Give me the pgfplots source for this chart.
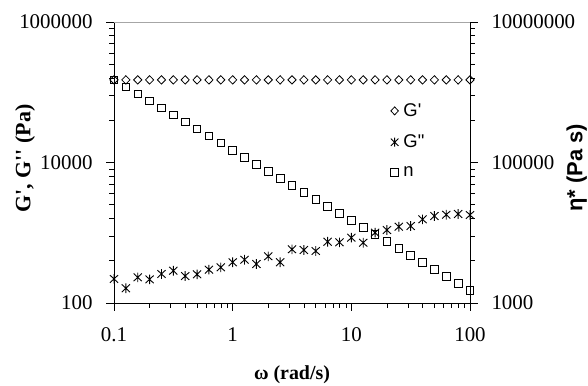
\documentclass[border=0pt]{standalone}
\usepackage{pgfplots}
\pgfplotsset{compat=1.18}
\usepackage{fontspec}
\setmainfont{Liberation Serif}
\newfontfamily\tnr{Liberation Serif}
\newfontfamily\arial{Liberation Sans}

\pgfdeclareplotmark{xast}{%
  \pgfpathmoveto{\pgfqpoint{0pt}{\pgfplotmarksize}}%
  \pgfpathlineto{\pgfqpoint{0pt}{-\pgfplotmarksize}}%
  \pgfpathmoveto{\pgfqpoint{-.85\pgfplotmarksize}{.8\pgfplotmarksize}}%
  \pgfpathlineto{\pgfqpoint{.85\pgfplotmarksize}{-.8\pgfplotmarksize}}%
  \pgfpathmoveto{\pgfqpoint{-.85\pgfplotmarksize}{-.8\pgfplotmarksize}}%
  \pgfpathlineto{\pgfqpoint{.85\pgfplotmarksize}{.8\pgfplotmarksize}}%
  \pgfusepathqstroke}

\pgfplotstableread{
w G1 G2 eta
0.1 150000 220 1500000
0.1259 150000 162 1191000
0.1585 150000 232 946000
0.1995 150000 217 752000
0.2512 150000 259 597000
0.3162 150000 288 474000
0.3981 150000 242 377000
0.5012 150000 256 299000
0.631 150000 298 238000
0.7943 150000 322 189000
1 150000 380 150000
1.259 150000 413 119100
1.585 150000 359 94600
1.995 150000 462 75200
2.512 150000 380 59700
3.162 150000 581 47400
3.981 150000 568 37700
5.012 150000 550 29900
6.31 150000 745 23800
7.943 150000 731 18900
10 150000 851 15000
12.59 150000 721 11910
15.85 150000 1003 9460
19.95 150000 1094 7520
25.12 150000 1219 5970
31.62 150000 1247 4740
39.81 150000 1553 3770
50.12 150000 1731 2990
63.1 150000 1807 2380
79.43 150000 1849 1890
100 150000 1790 1500
}\datatable

\begin{document}
\begin{tikzpicture}
\path[use as bounding box] (-114bp,-83bp) rectangle (474bp,303bp);
\begin{axis}[
  width=356bp, height=281bp, scale only axis,
  xmode=log, ymode=log, xmin=0.1, xmax=100,
  tick align=outside,
  major tick length=8bp, minor tick length=5bp,
  axis line style={black, line width=0.8bp},
  tick style={black, line width=0.8bp},
  tick label style={font=\tnr\fontsize{21}{24}\selectfont},
  xticklabel style={yshift=-13bp},
  yticklabel style={xshift=-10bp},
  clip=false,
  axis y line*=left, axis x line*=bottom,
  xtick={0.1,1,10,100}, xticklabels={0.1,1,10,100},
  minor xtick={},
  ymin=100, ymax=1000000,
  ytick={100,10000,1000000}, yticklabels={100,10000,1000000},
  minor ytick={400,900,1600,2500,3600,4900,6400,8100,40000,90000,160000,250000,360000,490000,640000,810000},
  xlabel={\tnr\bfseries\fontsize{20}{24}\selectfont ω (rad/s)},
  ylabel={\tnr\bfseries\fontsize{22}{26}\selectfont G', G'' (Pa)},
  every axis x label/.style={at={(axis description cs:0.5,-0.256)}, anchor=center},
  every axis y label/.style={at={(axis description cs:-0.25,0.514)}, anchor=center, rotate=90},
]
\addplot[only marks, mark=diamond, mark size=4.2bp, mark options={solid, xscale=1.3, fill=white, draw=black, line width=0.8bp}] table[x=w, y=G1] {\datatable};
\addplot[only marks, mark=xast, mark size=4.8bp, mark options={solid, draw=black, line width=0.9bp}] table[x=w, y=G2] {\datatable};
\end{axis}
\begin{axis}[
  width=356bp, height=281bp, scale only axis,
  xmode=log, ymode=log, xmin=0.1, xmax=100,
  tick align=outside,
  major tick length=8bp, minor tick length=5bp,
  axis line style={black, line width=0.8bp},
  tick style={black, line width=0.8bp},
  tick label style={font=\tnr\fontsize{21}{24}\selectfont},
  yticklabel style={xshift=10bp},
  clip=false,
  axis y line*=right, axis x line*=top,
  x axis line style={gray!70, line width=0.8bp},
  xtick=\empty, minor xtick={},
  ymin=1000, ymax=10000000,
  ytick={1000,100000,10000000}, yticklabels={1000,100000,10000000},
  minor ytick={4000,9000,16000,25000,36000,49000,64000,81000,400000,900000,1600000,2500000,3600000,4900000,6400000,8100000},
  ylabel={\arial\bfseries\fontsize{22}{26}\selectfont η* (Pa s)},
  every axis y label/.style={at={(axis description cs:1.30,0.482)}, anchor=center, rotate=90},
  legend style={at={(axis description cs:0.777,0.717)}, anchor=north west, draw=none, fill=none,
    font=\arial\fontsize{18.5}{21}\selectfont, row sep=13bp, inner sep=0pt},
  legend cell align=left,
]
\addlegendimage{only marks, mark=diamond, mark size=4bp, mark options={solid, xscale=1.25, fill=white, draw=black, line width=0.8bp}}
\addlegendentry{\hspace{3bp}G'}
\addlegendimage{only marks, mark=xast, mark size=4.5bp, mark options={solid, draw=black, line width=0.9bp}}
\addlegendentry{\hspace{3bp}G"}
\addplot[only marks, mark=square, mark size=3.8bp, mark options={solid, fill=none, draw=black, line width=0.8bp}] table[x=w, y=eta] {\datatable};
\addlegendentry{\hspace{3bp}n}
\end{axis}
\end{tikzpicture}
\end{document}
